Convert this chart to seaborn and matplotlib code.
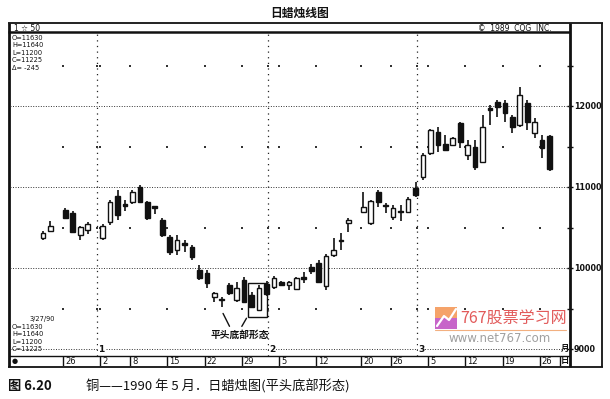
import numpy as np
import pandas as pd
import matplotlib
matplotlib.use("Agg")
import matplotlib.pyplot as plt
import seaborn as sns
from matplotlib.patches import Rectangle

# ---------------- data (copper, daily candles, Dec 1989 - Mar 1990) ----------------
dates = ["1989-12-21", "1989-12-22", "1989-12-26", "1989-12-27", "1989-12-28", "1989-12-29",
         "1990-01-02", "1990-01-03", "1990-01-04", "1990-01-05",
         "1990-01-08", "1990-01-09", "1990-01-10", "1990-01-11", "1990-01-12",
         "1990-01-15", "1990-01-16", "1990-01-17", "1990-01-18", "1990-01-19",
         "1990-01-22", "1990-01-23", "1990-01-24", "1990-01-25", "1990-01-26",
         "1990-01-29", "1990-01-30", "1990-01-31", "1990-02-01", "1990-02-02",
         "1990-02-05", "1990-02-06", "1990-02-07", "1990-02-08", "1990-02-09",
         "1990-02-12", "1990-02-13", "1990-02-14", "1990-02-15", "1990-02-16",
         "1990-02-20", "1990-02-21", "1990-02-22", "1990-02-23",
         "1990-02-26", "1990-02-27", "1990-02-28", "1990-03-01", "1990-03-02",
         "1990-03-05", "1990-03-06", "1990-03-07", "1990-03-08", "1990-03-09",
         "1990-03-12", "1990-03-13", "1990-03-14", "1990-03-15", "1990-03-16",
         "1990-03-19", "1990-03-20", "1990-03-21", "1990-03-22", "1990-03-23",
         "1990-03-26", "1990-03-27"]
opens = [10370, 10460, 10715, 10680, 10410, 10470,
         10370, 10570, 10890, 10790,
         10815, 11000, 10815, 10765, 10590,
         10380, 10225, 10310, 10260, 9975,
         9940, 9645, 9610, 9790, 9605,
         9850, 9665, 9480, 9800, 9765,
         9825, 9790, 9740, 9890, 10010,
         10060, 9780, 10160, 10350, 10555,
         10690, 10555, 10940, 10775,
         10630, 10710, 10690, 10985, 11125,
         11420, 11680, 11530, 11520, 11790,
         11395, 11495, 11310, 11970, 12050,
         12035, 11865, 11765, 12035, 11665,
         11580, 11630]
highs = [10455, 10580, 10740, 10705, 10515, 10565,
         10540, 10840, 10965, 10840,
         10960, 11020, 10830, 10770, 10615,
         10410, 10405, 10345, 10285, 10035,
         9975, 9705, 9640, 9815, 9825,
         9890, 9705, 9790, 9840, 9900,
         9835, 9840, 9890, 9945, 10050,
         10095, 10170, 10370, 10430, 10620,
         10940, 10840, 10960, 10805,
         10780, 10780, 10875, 11060, 11420,
         11720, 11740, 11640, 11615, 11805,
         11580, 11580, 11890, 12010, 12075,
         12075, 11890, 12235, 12075, 11850,
         11640, 11640]
lows = [10345, 10445, 10605, 10430, 10345, 10420,
        10345, 10530, 10590, 10710,
        10790, 10800, 10590, 10670, 10380,
        10160, 10160, 10195, 10100, 9850,
        9750, 9580, 9520, 9665, 9580,
        9565, 9505, 9470, 9650, 9740,
        9780, 9730, 9730, 9810, 9930,
        9815, 9730, 10135, 10220, 10445,
        10680, 10530, 10755, 10680,
        10590, 10580, 10680, 10875, 11090,
        11395, 11430, 11455, 11510, 11480,
        11335, 11210, 11300, 11765, 11865,
        11800, 11665, 11740, 11705, 11605,
        11360, 11200]
closes = [10430, 10520, 10620, 10445, 10505, 10545,
          10520, 10815, 10655, 10765,
          10940, 10815, 10620, 10745, 10410,
          10200, 10345, 10290, 10135, 9880,
          9815, 9690, 9600, 9690, 9750,
          9580, 9520, 9750, 9680, 9875,
          9790, 9830, 9876, 9870, 9960,
          9830, 10150, 10220, 10335, 10595,
          10755, 10825, 10815, 10765,
          10740, 10690, 10850, 10900, 11395,
          11705, 11520, 11460, 11605, 11555,
          11520, 11250, 11740, 11955, 11990,
          11915, 11740, 12135, 11800, 11800,
          11480, 11225]
price_levels = [9000, 10000, 11000, 12000]
price_labels = ["9000", "10000", "11000", "12000"]
half_levels = [9500, 10500, 11500, 12500]
month_firsts = ["1990-01-01", "1990-02-01", "1990-03-01"]
month_names = ["1", "2", "3"]
info_top = ["O=11630", "H=11640", "L=11200", "C=11225", "Δ= -245"]
info_bottom = ["3/27/90", "O=11630", "H=11640", "L=11200", "C=11225"]

# ---------------- style ----------------
sns.set_theme(style="white")
plt.rcParams['font.family'] = ['Noto Sans CJK SC', 'DejaVu Sans']

W, H = 610, 399
fig = plt.figure(figsize=(6.1, 3.99), dpi=100)
fig.patch.set_facecolor("white")

bg = fig.add_axes([0, 0, 1, 1])
bg.set_xlim(0, W)
bg.set_ylim(H, 0)
bg.axis("off")

L, R, T, B = 10, 570, 32, 356
ax = fig.add_axes([L / W, 1 - B / H, (R - L) / W, (B - T) / H])
ax.patch.set_alpha(0)
x0, step = 43, 7.45
ax.set_xlim((L - x0) / step, (R - x0) / step)
ax.set_ylim(8914, 12914)
ax.set_xticks([])
ax.set_yticks([])
for s in ax.spines.values():
    s.set_visible(False)

pos = np.array([np.busday_count(dates[0], d) for d in dates], dtype=float)
o = np.array(opens, float); h = np.array(highs, float)
l = np.array(lows, float); c = np.array(closes, float)

# grid lines
for lev in price_levels:
    ax.axhline(lev, color="#333", lw=0.7, ls=(0, (1, 1.6)), zorder=1)
mpos = np.array([np.busday_count(dates[0], m) for m in month_firsts], float) + 0.2
for mp, mn in zip(mpos, month_names):
    ax.axvline(mp, color="#222", lw=0.9, ls=(0, (1, 3.5)), zorder=1)
    ax.text(mp + 0.2, 9000, mn, fontsize=6.5, fontweight="bold", va="center",
            ha="left", family="DejaVu Sans", color="#111", zorder=4,
            bbox=dict(fc="white", ec="none", pad=0.3))

# week starts
wk = [pd.Timestamp(d).isocalendar().week for d in dates]
week_idx = [i for i in range(1, len(dates)) if wk[i] != wk[i - 1]]
week_pos = pos[week_idx] - 0.3
dots_x = np.concatenate([week_pos, mpos])
for lev in half_levels:
    ax.scatter(dots_x, np.full(len(dots_x), lev), s=1.6, marker="s", color="#333",
               linewidths=0, zorder=1)

# candles
ax.vlines(pos, l, h, color="#111", lw=1.2, zorder=2)
up = c >= o
bot = np.minimum(o, c)
hgt = np.maximum(np.abs(c - o), 12)
ax.bar(pos[up], hgt[up], bottom=bot[up], width=0.62, color="white",
       edgecolor="#111", linewidth=1.0, zorder=3)
ax.bar(pos[~up], hgt[~up], bottom=bot[~up], width=0.62, color="#111",
       edgecolor="#111", linewidth=1.0, zorder=3)

# flat-bottom box and annotation
ax.add_patch(Rectangle((27.5, 9400), 2.55, 420, fill=False, ec="#111", lw=1.0, zorder=4))
ax.text(26.4, 9170, "平头底部形态", fontsize=7, fontweight="bold", ha="center",
        va="center", color="#111", zorder=5)
ax.annotate("", xy=(24.0, 9470), xytext=(25.2, 9250),
            arrowprops=dict(arrowstyle="-", color="#111", lw=1.0))
ax.annotate("", xy=(27.5, 9410), xytext=(26.5, 9250),
            arrowprops=dict(arrowstyle="-", color="#111", lw=1.0))

# date strip
ax2 = fig.add_axes([L / W, 1 - 366 / H, (R - L) / W, 10 / H])
ax2.patch.set_alpha(0)
ax2.set_xlim(ax.get_xlim())
ax2.set_ylim(0, 1)
ax2.set_xticks([]); ax2.set_yticks([])
for s in ax2.spines.values():
    s.set_visible(False)
for i, wp in zip(week_idx, week_pos):
    ax2.axvline(wp, color="#111", lw=1.0)
    ax2.text(wp + 0.25, 0.45, str(pd.Timestamp(dates[i]).day), fontsize=6,
             va="center", ha="left", family="DejaVu Sans", color="#111")
ax2.axvline((560 - x0) / step, color="#111", lw=1.0)

# ---------------- frame & decorations (pixel space) ----------------
lk = dict(color="#111", solid_capstyle="butt")
bg.plot([8, 603], [23, 23], lw=1.3, **lk)
bg.plot([8, 570], [32, 32], lw=1.8, **lk)
bg.plot([9, 9], [23, 367], lw=2.0, **lk)
bg.plot([570, 570], [23, 367], lw=2.0, **lk)
bg.plot([602, 602], [23, 367], lw=1.3, **lk)
bg.plot([8, 603], [367, 367], lw=1.3, **lk)
bg.plot([9, 570], [356, 356], lw=1.0, **lk)
for lev in half_levels + price_levels:
    py = 32 + (12914 - lev) / 4000 * 324
    bg.plot([567, 573], [py, py], lw=1.0, **lk)

bg.text(300, 13, "日蜡烛线图", fontsize=8.5, fontweight="bold", ha="center",
        va="center", color="#111")
bg.text(14, 28, "1 ☆ 50", fontsize=5.5, va="center", ha="left",
        family="DejaVu Sans", color="#111")
bg.text(478, 28, "©  1989  CQG  INC.", fontsize=5.5, va="center", ha="left",
        family="DejaVu Sans", color="#111")
for k, t in enumerate(info_top):
    bg.text(12, 38 + k * 7.4, t, fontsize=4.8, va="center", ha="left",
            family="DejaVu Sans", color="#111")
bg.text(30, 319, info_bottom[0], fontsize=4.8, va="center", ha="left",
        family="DejaVu Sans", color="#111")
for k, t in enumerate(info_bottom[1:]):
    bg.text(12, 327 + k * 7.3, t, fontsize=4.8, va="center", ha="left",
            family="DejaVu Sans", color="#111")
for lev, lab in zip(price_levels, price_labels):
    py = 32 + (12914 - lev) / 4000 * 324
    bg.text(574, py, lab, fontsize=5.8, va="center", ha="left",
            family="DejaVu Sans", fontweight="bold", color="#111")
bg.text(12, 361, "●", fontsize=5, va="center", ha="left", family="DejaVu Sans", color="#111")
bg.text(565, 348, "月", fontsize=6, va="center", ha="center", color="#111", fontweight="bold")
bg.text(565, 361, "日", fontsize=6, va="center", ha="center", color="#111", fontweight="bold")

# watermark
bg.add_patch(Rectangle((435, 307), 22, 11, color="#f5a36a", lw=0))
bg.add_patch(Rectangle((435, 318), 22, 11, color="#c765c9", lw=0))
bg.plot([437, 444, 449, 456], [326, 316, 320, 309], color="white", lw=1.6)
bg.text(460, 318, "767股票学习网", fontsize=11.5, va="center", ha="left", color="#e25a5a")
bg.plot([435, 566], [330, 330], color="#f2b080", lw=0.8)
bg.text(500, 339, "www.net767.com", fontsize=8.5, va="center", ha="center",
        color="#a0a0a0", family="DejaVu Sans")

# caption
bg.text(8, 386, "图 6.20", fontsize=9.5, fontweight="bold", va="center", ha="left", color="#111")
bg.text(86, 386, "铜——1990 年 5 月．日蜡烛图(平头底部形态)", fontsize=9.5,
        va="center", ha="left", color="#111")

fig.savefig("out.png", dpi=100, facecolor="white")
